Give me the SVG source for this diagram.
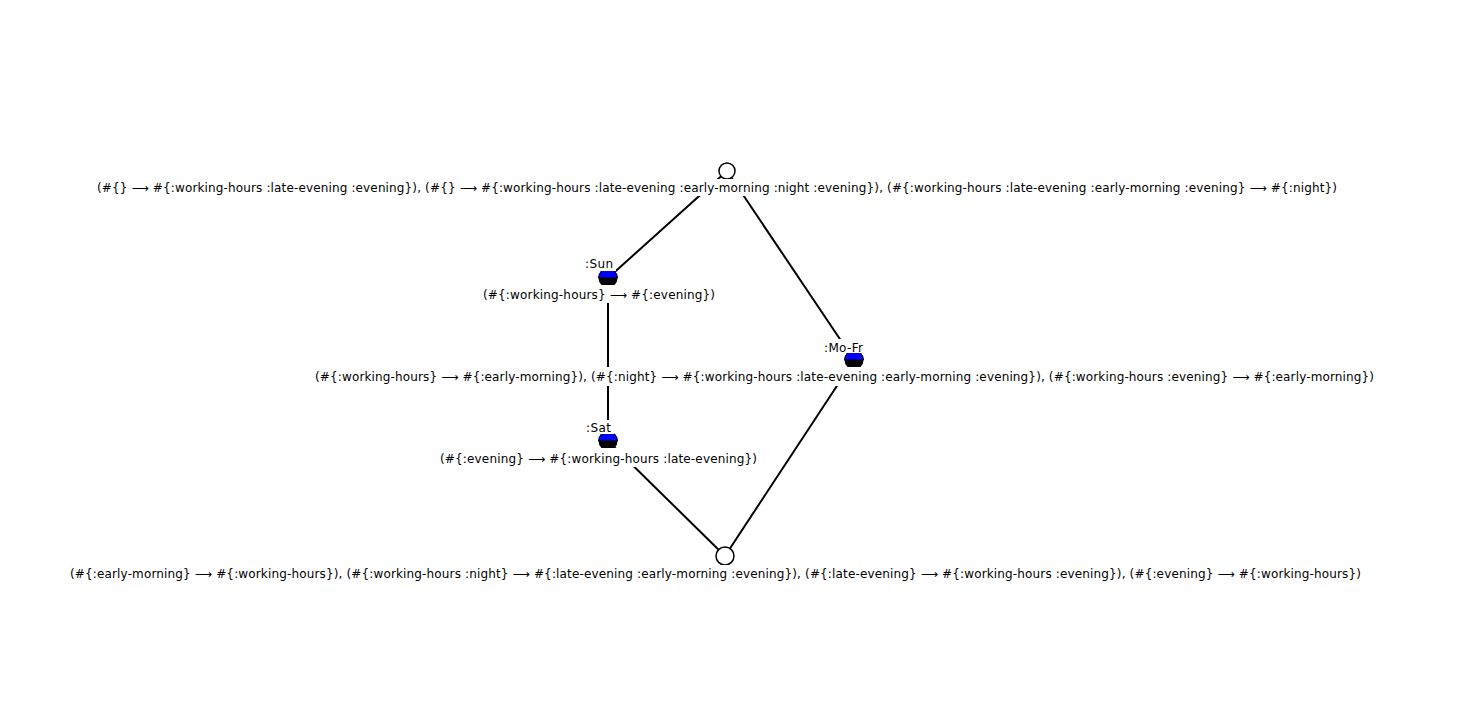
<svg xmlns="http://www.w3.org/2000/svg" width="1462" height="720" viewBox="0 0 1462 720">
<style>
.lbl{font-family:"DejaVu Sans","Liberation Sans",sans-serif;font-size:12px;fill:#000;text-anchor:middle}
.bg{fill:#fff}
.edge{stroke:#000;stroke-width:2;fill:none}
.ring{fill:#fff;stroke:#000;stroke-width:1.5}
.top{fill:#0000ff;stroke:#000;stroke-width:1}
.bot{fill:#000}
</style>
<rect width="1462" height="720" fill="#fff"/>
<g id="connectors">
<line class="edge" x1="727" y1="171" x2="608" y2="278"/>
<line class="edge" x1="727" y1="171" x2="854" y2="360"/>
<line class="edge" x1="608" y1="278" x2="608" y2="441"/>
<line class="edge" x1="608" y1="441" x2="725" y2="556"/>
<line class="edge" x1="854" y1="360" x2="725" y2="556"/>
</g>
<g id="node-top">
<circle class="ring" cx="727" cy="171" r="8"/>
<rect class="bg" x="94" y="179" width="1246" height="17"/>
<text class="lbl" x="717" y="192" textLength="1240" lengthAdjust="spacing">(#{} ⟶ #{:working-hours :late-evening :evening}), (#{} ⟶ #{:working-hours :late-evening :early-morning :night :evening}), (#{:working-hours :late-evening :early-morning :evening} ⟶ #{:night})</text>
</g>
<g id="node-sun">
<circle class="bot" cx="608" cy="278" r="9.5"/>
<path class="top" d="M598.5,278 A9.5,9.5 0 0 1 617.5,278 Z"/>
<rect class="bg" x="582" y="256" width="34" height="15"/>
<text class="lbl" x="599" y="268" textLength="28" lengthAdjust="spacing">:Sun</text>
<rect class="bg" x="480" y="285" width="238" height="18"/>
<text class="lbl" x="599" y="299" textLength="232" lengthAdjust="spacing">(#{:working-hours} ⟶ #{:evening})</text>
</g>
<g id="node-mofr">
<circle class="bot" cx="854" cy="360" r="9.5"/>
<path class="top" d="M844.5,360 A9.5,9.5 0 0 1 863.5,360 Z"/>
<rect class="bg" x="821" y="339" width="45" height="14"/>
<text class="lbl" x="843.5" y="352" textLength="39" lengthAdjust="spacing">:Mo-Fr</text>
<rect class="bg" x="312" y="367" width="1065" height="19"/>
<text class="lbl" x="844.5" y="381" textLength="1059" lengthAdjust="spacing">(#{:working-hours} ⟶ #{:early-morning}), (#{:night} ⟶ #{:working-hours :late-evening :early-morning :evening}), (#{:working-hours :evening} ⟶ #{:early-morning})</text>
</g>
<g id="node-sat">
<circle class="bot" cx="608" cy="441" r="9.5"/>
<path class="top" d="M598.5,441 A9.5,9.5 0 0 1 617.5,441 Z"/>
<rect class="bg" x="583" y="420" width="31" height="14"/>
<text class="lbl" x="598.5" y="432" textLength="25" lengthAdjust="spacing">:Sat</text>
<rect class="bg" x="437" y="448" width="323" height="19"/>
<text class="lbl" x="598.5" y="463" textLength="317" lengthAdjust="spacing">(#{:evening} ⟶ #{:working-hours :late-evening})</text>
</g>
<g id="node-bottom">
<circle class="ring" cx="725" cy="556" r="9"/>
<rect class="bg" x="67" y="565" width="1297" height="17"/>
<text class="lbl" x="715.5" y="578" textLength="1291" lengthAdjust="spacing">(#{:early-morning} ⟶ #{:working-hours}), (#{:working-hours :night} ⟶ #{:late-evening :early-morning :evening}), (#{:late-evening} ⟶ #{:working-hours :evening}), (#{:evening} ⟶ #{:working-hours})</text>
</g>
</svg>
